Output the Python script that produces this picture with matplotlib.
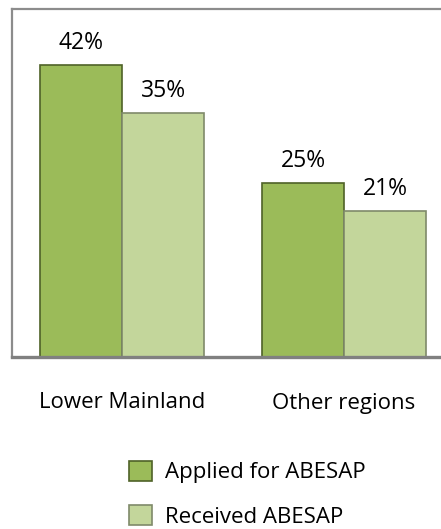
import numpy as np
import matplotlib
matplotlib.use("Agg")
import matplotlib.pyplot as plt
from matplotlib.patches import Patch

plt.rcParams["font.family"] = ["Open Sans", "DejaVu Sans"]

categories = ["Lower Mainland", "Other regions"]
applied = [42, 25]
received = [35, 21]
series_labels = ["Applied for ABESAP", "Received ABESAP"]

DARK = "#9bbb59"
LIGHT = "#c3d69b"
DARK_EDGE = "#4f6228"
LIGHT_EDGE = "#7f8a6a"

W, H = 441, 529
fig = plt.figure(figsize=(W / 100, H / 100), dpi=100)
ax = fig.add_axes([12 / W, (H - 357) / H, 429 / W, 348 / H])

x = np.arange(len(categories))
bw = 82 / 222
b1 = ax.bar(x - bw / 2, applied, bw, color=DARK, edgecolor=DARK_EDGE, linewidth=1.2)
b2 = ax.bar(x + bw / 2, received, bw, color=LIGHT, edgecolor=LIGHT_EDGE, linewidth=1.2)

for bars, vals in [(b1, applied), (b2, received)]:
    for rect, v in zip(bars, vals):
        ax.annotate(f"{v}%", (rect.get_x() + rect.get_width() / 2, v),
                    xytext=(0, 11.5), textcoords="offset points",
                    ha="center", va="baseline", fontsize=16.5)

ax.set_xlim((12 - 122) / 222, (441 - 122) / 222)
ax.set_ylim(0, 50)
ax.set_yticks([])
ax.set_xticks([])

# category labels under the plot
for xi, cat in zip(x, categories):
    ax.annotate(cat, (xi, 0), xytext=(0, -51.5 * 72 / 100), textcoords="offset points",
                ha="center", va="baseline", fontsize=16, annotation_clip=False)

for side in ["left", "top"]:
    ax.spines[side].set_color("#8c8c8c")
    ax.spines[side].set_linewidth(1.6)
ax.spines["bottom"].set_color("#808080")
ax.spines["bottom"].set_linewidth(2.4)
ax.spines["right"].set_visible(False)

handles = [Patch(facecolor=DARK, edgecolor=DARK_EDGE, linewidth=1.2),
           Patch(facecolor=LIGHT, edgecolor=LIGHT_EDGE, linewidth=1.2)]
fs = 16
fs_px = fs * 100 / 72
fig.legend(handles, series_labels, loc="upper left",
           bbox_to_anchor=(129 / W, (H - 461) / H), frameon=False,
           fontsize=fs, borderpad=0, borderaxespad=0,
           handlelength=23 / fs_px, handleheight=22 / fs_px,
           handletextpad=(165 - 152) / fs_px, labelspacing=(44 - 22) / fs_px)

fig.savefig("out.png", dpi=100)
